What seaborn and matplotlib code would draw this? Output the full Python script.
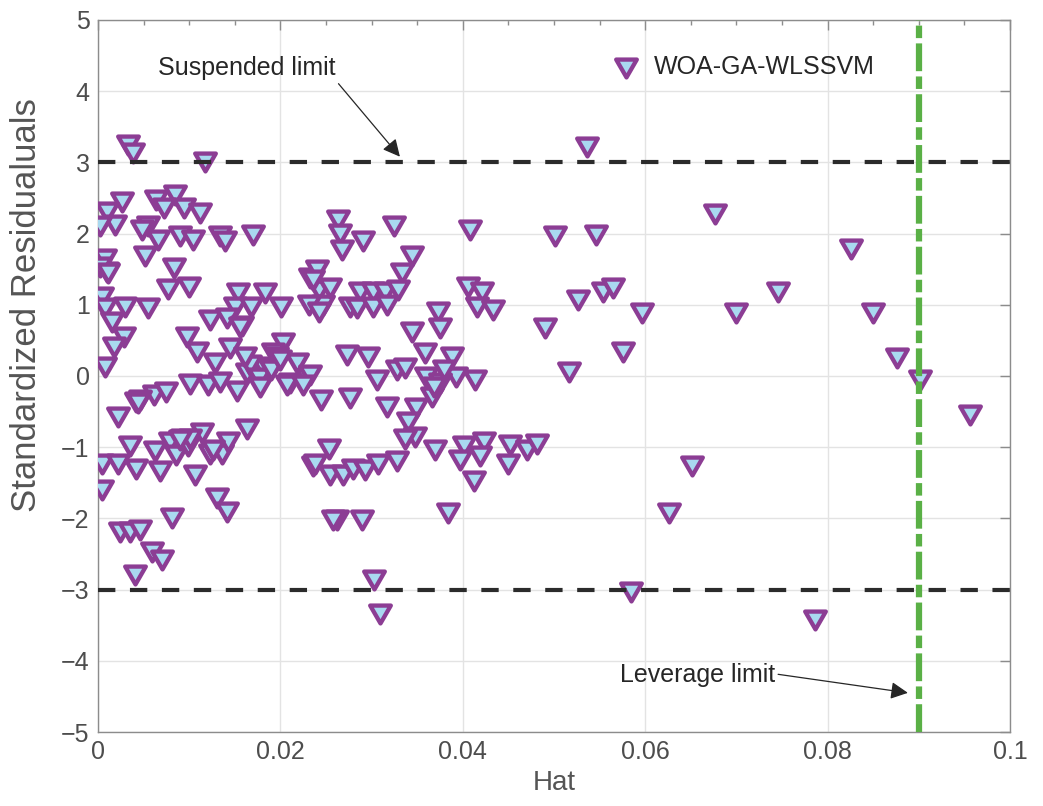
import matplotlib
matplotlib.use("Agg")
import matplotlib.pyplot as plt
from matplotlib.path import Path
from matplotlib.ticker import MultipleLocator, FixedLocator
import seaborn as sns
import pandas as pd

# ---------------- data ----------------
hat_values = [
    0.0033, 0.0038, 0.0117, 0.0084, 0.0064, 0.0026, 0.0010, 0.0072, 0.0094, 0.0112,
    0.0019, 0.0002, 0.0055, 0.0048, 0.0066, 0.0090, 0.0104, 0.0134, 0.0139, 0.0170,
    0.0008, 0.0010, 0.0002, 0.0052, 0.0083, 0.0077, 0.0100, 0.0004, 0.0008, 0.0030,
    0.0055, 0.0015, 0.0028, 0.0017, 0.0008, 0.0154, 0.0183, 0.0150, 0.0168, 0.0201,
    0.0123, 0.0141, 0.0158, 0.0097, 0.0108, 0.0128, 0.0145, 0.0203, 0.0192, 0.0232,
    0.0242, 0.0247, 0.0101, 0.0121, 0.0152, 0.0163, 0.0174, 0.0181, 0.0196, 0.0211,
    0.0229, 0.0245, 0.0042, 0.0061, 0.0075, 0.0022, 0.0011, 0.0167, 0.0177, 0.0046,
    0.0156, 0.0161, 0.0190, 0.0218, 0.0232, 0.0178, 0.0207, 0.0225, 0.0134, 0.0200,
    0.0035, 0.0004, 0.0022, 0.0042, 0.0063, 0.0068, 0.0079, 0.0086, 0.0092, 0.0099,
    0.0114, 0.0106, 0.0123, 0.0136, 0.0143, 0.0163, 0.0004, 0.0130, 0.0141, 0.0081,
    0.0024, 0.0035, 0.0046, 0.0059, 0.0070, 0.0041, 0.0253, 0.0236, 0.0254, 0.0262,
    0.0044, 0.0101, 0.0090, 0.0126, 0.0263, 0.0265, 0.0291, 0.0267, 0.0324, 0.0344,
    0.0333, 0.0240, 0.0236, 0.0254, 0.0287, 0.0302, 0.0315, 0.0329, 0.0231, 0.0242,
    0.0276, 0.0284, 0.0302, 0.0317, 0.0344, 0.0273, 0.0296, 0.0328, 0.0337, 0.0306,
    0.0276, 0.0317, 0.0349, 0.0340, 0.0348, 0.0337, 0.0238, 0.0269, 0.0280, 0.0293,
    0.0307, 0.0328, 0.0258, 0.0289, 0.0536, 0.0408, 0.0501, 0.0546, 0.0406, 0.0421,
    0.0415, 0.0433, 0.0373, 0.0375, 0.0526, 0.0554, 0.0565, 0.0490, 0.0576, 0.0516,
    0.0359, 0.0388, 0.0393, 0.0413, 0.0360, 0.0375, 0.0366, 0.0368, 0.0370, 0.0401,
    0.0423, 0.0397, 0.0419, 0.0452, 0.0450, 0.0470, 0.0481, 0.0412, 0.0384, 0.0379,
    0.0677, 0.0826, 0.0746, 0.0700, 0.0850, 0.0596, 0.0876, 0.0901, 0.0956, 0.0651,
    0.0626, 0.0786, 0.0584, 0.0303, 0.0309,
]
std_residuals = [
    3.24, 3.13, 3.00, 2.54, 2.47, 2.45, 2.31, 2.36, 2.36, 2.29,
    2.12, 2.10, 2.10, 2.05, 1.91, 1.96, 1.91, 1.96, 1.89, 1.98,
    1.65, 1.46, 1.53, 1.68, 1.52, 1.22, 1.25, 1.11, 0.95, 0.97,
    0.95, 0.76, 0.55, 0.41, 0.12, 1.16, 1.17, 0.97, 0.97, 0.97,
    0.79, 0.81, 0.70, 0.55, 0.34, 0.18, 0.39, 0.47, 0.32, 1.37,
    1.21, 1.00, -0.11, -0.13, -0.21, 0.04, -0.01, 0.13, 0.27, -0.10,
    -0.03, -0.34, -0.36, -0.26, -0.23, -0.57, 1.44, 0.15, -0.03, -0.34,
    0.69, 0.27, 0.08, 0.18, 0.01, -0.15, -0.13, -0.13, -0.08, 0.22,
    -0.99, -1.23, -1.23, -1.30, -1.06, -1.34, -0.92, -1.11, -0.88, -0.99,
    -0.80, -1.39, -1.09, -1.09, -0.92, -0.75, -1.60, -1.72, -1.91, -2.00,
    -2.19, -2.19, -2.16, -2.47, -2.58, -2.79, -1.02, -1.27, -1.39, -2.02,
    -0.38, -0.88, -0.90, -1.04, 2.19, 2.00, 1.89, 1.77, 2.10, 1.68,
    1.44, 1.49, 1.35, 1.23, 1.18, 1.18, 1.18, 1.21, 1.00, 0.90,
    0.97, 0.95, 0.97, 1.00, 0.62, 0.30, 0.27, 0.08, 0.11, -0.06,
    -0.31, -0.43, -0.45, -0.64, -0.85, -0.88, -1.23, -1.39, -1.30, -1.32,
    -1.23, -1.20, -2.02, -2.02, 3.22, 2.05, 1.96, 1.98, 1.25, 1.18,
    0.97, 0.93, 0.90, 0.67, 1.07, 1.18, 1.23, 0.67, 0.34, 0.06,
    0.32, 0.27, -0.01, -0.06, -0.01, -0.10, -0.29, -0.15, -1.04, -0.99,
    -0.92, -1.18, -1.13, -0.97, -1.23, -1.04, -0.95, -1.48, -1.93, 0.08,
    2.28, 1.79, 1.18, 0.88, 0.88, 0.88, 0.25, -0.06, -0.55, -1.27,
    -1.93, -3.43, -3.03, -2.86, -3.34,
]
series_name = "WOA-GA-WLSSVM"
residual_limits = [3.0, -3.0]
leverage_limit = 0.09
x_tick_values = [0, 0.02, 0.04, 0.06, 0.08, 0.1]
x_tick_labels = ["0", "0.02", "0.04", "0.06", "0.08", "0.1"]
y_tick_values = [-5, -4, -3, -2, -1, 0, 1, 2, 3, 4, 5]

# ---------------- style ----------------
sns.set_style("white")
plt.rcParams["font.family"] = ["Liberation Sans", "DejaVu Sans"]
plt.rcParams["lines.scale_dashes"] = False

fig = plt.figure(figsize=(10.43, 8.06), dpi=100)
ax = fig.add_axes([0.0940, 0.0918, 0.8744, 0.8834])

df = pd.DataFrame({"Hat": hat_values, "Res": std_residuals})

tri = Path([(-1.0, 0.866), (1.0, 0.866), (0.0, -0.866), (-1.0, 0.866)],
           [Path.MOVETO, Path.LINETO, Path.LINETO, Path.CLOSEPOLY])

sns.scatterplot(data=df, x="Hat", y="Res", marker=tri, s=220,
                color="#A9D9F0", edgecolor="#8C3D94", linewidth=3.1,
                label=series_name, ax=ax, zorder=3)

# limit lines
for lim in residual_limits:
    ax.plot([0, 0.1], [lim, lim], color="#2b2b2b", lw=3.0,
            linestyle=(0, (12.5, 10.5)), zorder=4)
ax.plot([leverage_limit, leverage_limit], [-5, 5], color="#5AB046", lw=4.5,
        linestyle=(0, (20, 3.8, 9, 3.8)), zorder=5)

# axes
ax.set_xlim(0, 0.1)
ax.set_ylim(-5, 5)
ax.xaxis.set_major_locator(FixedLocator(x_tick_values))
ax.set_xticklabels(x_tick_labels)
ax.xaxis.set_minor_locator(MultipleLocator(0.005))
ax.yaxis.set_major_locator(FixedLocator(y_tick_values))
ax.set_yticklabels([("\u2212" + str(-v)) if v < 0 else str(v) for v in y_tick_values])

spine_col = "#8c8c8c"
for sp in ax.spines.values():
    sp.set_visible(True)
    sp.set_color(spine_col)
    sp.set_linewidth(1.0)
ax.tick_params(which="both", direction="in", top=True, right=True,
               color=spine_col, labelcolor="#4d4d4d", labelsize=18)
ax.tick_params(which="major", length=7, width=1.0, pad=6)
ax.tick_params(which="minor", length=3.6, width=1.0)
ax.tick_params(axis="y", which="minor", left=False, right=False)
ax.grid(True, which="major", color="#e3e3e3", lw=1.0, zorder=0)
ax.set_axisbelow(True)

ax.set_xlabel("Hat", fontsize=20, color="#555555", labelpad=4)
ax.set_ylabel("Standardized Residualuals", fontsize=25, color="#555555")
ax.yaxis.set_label_coords(-0.060, 0.600)

# annotations
arrow_kw = dict(arrowstyle="-|>", color="#262626", lw=0.9,
                mutation_scale=26, shrinkA=0, shrinkB=0)
ax.annotate("Suspended limit", xy=(0.0331, 3.08), xytext=(0.0066, 4.32),
            fontsize=18, color="#262626", ha="left", va="center",
            arrowprops=dict(relpos=(1.0, 0.0), **arrow_kw), zorder=6)
ax.annotate("Leverage limit", xy=(0.0888, -4.45), xytext=(0.0572, -4.2),
            fontsize=18, color="#262626", ha="left", va="center",
            arrowprops=dict(relpos=(1.0, 0.55), **arrow_kw), zorder=6)

leg = ax.legend(loc="upper left", bbox_to_anchor=(0.541, 0.982), frameon=False,
                fontsize=18, handlelength=1.0, handletextpad=0.6, borderpad=0.4,
                labelcolor="#262626")

fig.savefig("out.png", dpi=100)
